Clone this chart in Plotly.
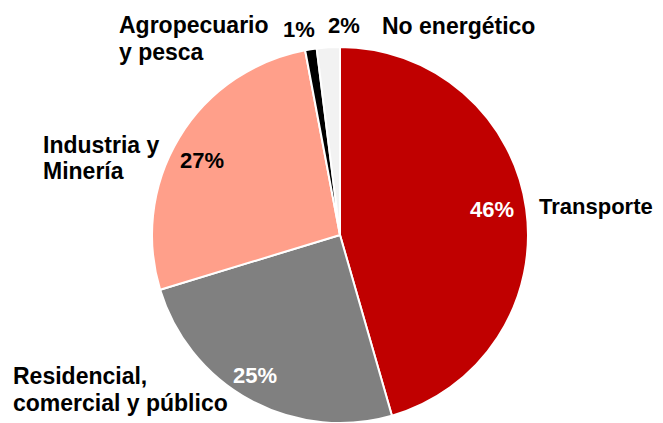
import plotly.graph_objects as go

# The page body has an 8px margin, so the figure is drawn 8px smaller and shifted.
OFF = 8
W, H = 663 - OFF, 423 - OFF

categories = ["Transporte", "Residencial,\ncomercial y público", "Industria y\nMinería",
              "Agropecuario\ny pesca", "No energético"]
values = [46, 25, 27, 1, 2]
pct_labels = ["46%", "25%", "27%", "1%", "2%"]
colors = ["#C00000", "#808080", "#FF9F8A", "#000000", "#F2F2F2"]
pct_colors = ["white", "white", "black", "black", "black"]

# label placements (window pixel coordinates of the layout: left x, first line centre y, font size)
name_pos = [(539, 207, 22), (13, 376, 23), (43, 144.5, 23), (119, 25.5, 23), (382, 26, 23)]
line_gap = 26.5
pct_pos = [(492, 209), (255, 375), (202, 160), (299, 30), (344.5, 25)]


def px_x(x):
    return (x - OFF) / W


def px_y(y):
    return 1 - (y - OFF) / H


fig = go.Figure(go.Pie(
    labels=[c.replace("\n", " ") for c in categories],
    values=values,
    sort=False,
    direction="clockwise",
    rotation=0,
    marker=dict(colors=colors, line=dict(color="white", width=2)),
    textinfo="none",
    hoverinfo="label+percent",
    domain=dict(x=[px_x(150), px_x(530)], y=[0, px_y(47)]),
))

font_family = "Liberation Sans, Arial, sans-serif"
anns = []
for name, (px, py, fs) in zip(categories, name_pos):
    for i, line in enumerate(name.split("\n")):
        anns.append(dict(text="<b>" + line + "</b>", x=px_x(px - 2), y=px_y(py + i * line_gap),
                         xref="paper", yref="paper", xanchor="left", yanchor="middle",
                         align="left", showarrow=False,
                         font=dict(family=font_family, size=fs, color="black")))
for lab, (px, py), c in zip(pct_labels, pct_pos, pct_colors):
    anns.append(dict(text="<b>" + lab + "</b>", x=px_x(px), y=px_y(py), xref="paper", yref="paper",
                     xanchor="center", yanchor="middle", showarrow=False,
                     font=dict(family=font_family, size=22, color=c)))

fig.update_layout(
    width=W, height=H,
    margin=dict(l=0, r=0, t=0, b=0),
    paper_bgcolor="white", plot_bgcolor="white",
    showlegend=False,
    annotations=anns,
)

fig.write_html("out.html")
